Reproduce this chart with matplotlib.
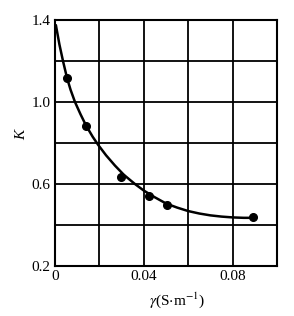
import matplotlib
matplotlib.use("Agg")
import matplotlib.pyplot as plt

plt.rcParams['font.family'] = ['Liberation Serif', 'DejaVu Serif']
plt.rcParams['mathtext.fontset'] = 'stix'

# measured points
gamma_pts = [0.0054, 0.014, 0.0298, 0.0424, 0.0506, 0.0894]
k_pts = [1.118, 0.885, 0.633, 0.541, 0.497, 0.439]

# smooth curve
gamma_curve = [0.0004, 0.002, 0.0036, 0.0054, 0.007, 0.009, 0.0115, 0.014,
               0.017, 0.0195, 0.023, 0.027, 0.031, 0.036, 0.040, 0.045,
               0.050, 0.055, 0.060, 0.065, 0.070, 0.075, 0.080, 0.085, 0.0894]
k_curve = [1.375, 1.28, 1.2, 1.118, 1.06, 1.0, 0.94, 0.885,
           0.83, 0.79, 0.74, 0.69, 0.645, 0.6, 0.568, 0.535,
           0.505, 0.485, 0.468, 0.456, 0.447, 0.441, 0.437, 0.435, 0.435]

x_ticks = [0, 0.04, 0.08]
y_ticks = [0.2, 0.6, 1.0, 1.4]

fig = plt.figure(figsize=(2.94, 3.16), dpi=100)
ax = fig.add_axes([55/294, 1-266/316, 222/294, 246/316])

ax.plot(gamma_curve, k_curve, color='black', lw=1.8, solid_capstyle='round',
        solid_joinstyle='round')
ax.plot(gamma_pts, k_pts, 'o', color='black', ms=5.5)

ax.set_xlim(0, 0.1)
ax.set_ylim(0.2, 1.4)
ax.set_xticks([i * 0.02 for i in range(6)])
ax.set_yticks([0.2 + i * 0.2 for i in range(7)])
ax.grid(True, color='black', lw=1.3)
ax.set_xticklabels(['0', '', '0.04', '', '0.08', ''])
ax.set_yticklabels(['0.2', '', '0.6', '', '1.0', '', '1.4'])
ax.tick_params(length=0, labelsize=11, pad=3)
for s in ax.spines.values():
    s.set_linewidth(1.5)

fig.text(22/294, 1-135/316, 'K', rotation=90, style='italic', fontsize=11,
         ha='center', va='center')
fig.text(177/294, 1-300/316, r'$\gamma$(S$\cdot$m$^{-1}$)', fontsize=11,
         ha='center', va='center')

fig.savefig('out.png', dpi=100)
